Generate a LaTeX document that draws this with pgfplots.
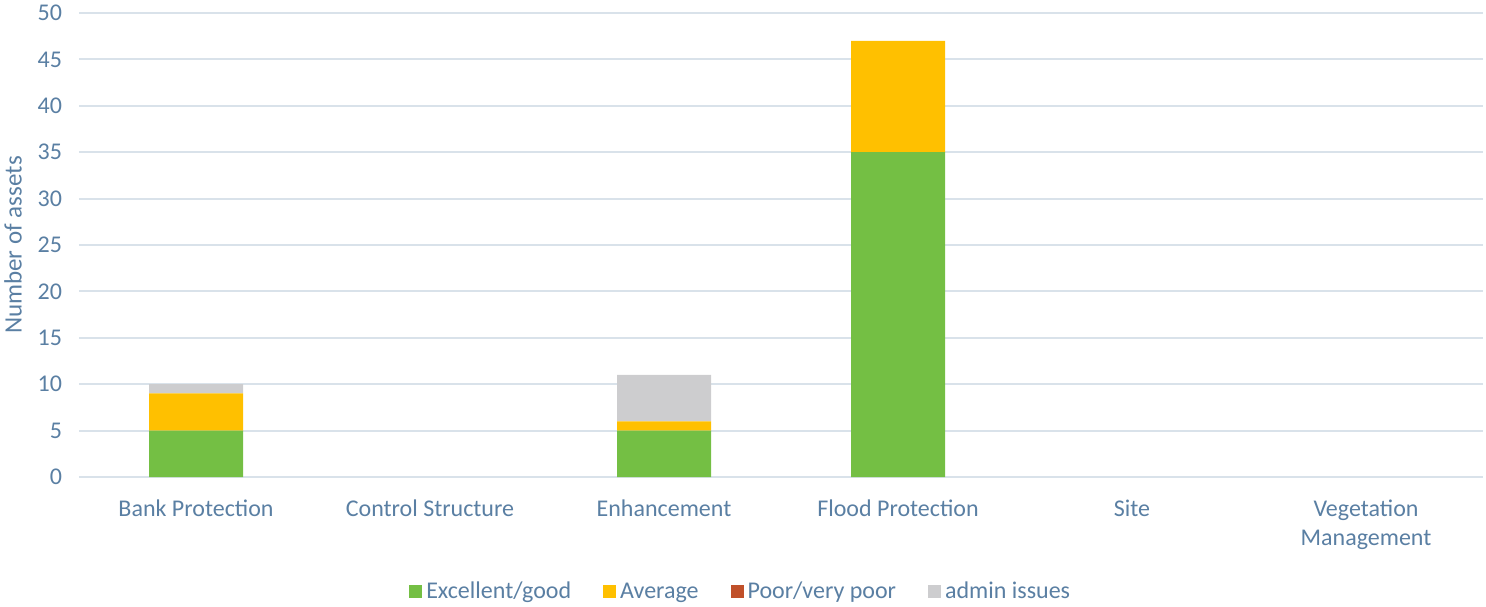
\documentclass[border=0pt]{standalone}
\usepackage{fontspec}
\setmainfont{Carlito}
\usepackage{pgfplots}
\pgfplotsset{compat=1.18}
\definecolor{txt}{HTML}{5A7FA3}
\definecolor{gridc}{HTML}{D9E2EA}
\definecolor{cgood}{HTML}{74BF44}
\definecolor{cavg}{HTML}{FFC000}
\definecolor{cpoor}{HTML}{C0502A}
\definecolor{cadmin}{HTML}{CDCDCF}
\begin{document}
\begin{tikzpicture}
\begin{axis}[
    scale only axis,
    width=702pt, height=232pt,
    ybar stacked,
    bar width=47pt,
    xmin=-0.5, xmax=5.5,
    ymin=0, ymax=50,
    ytick={0,5,...,50},
    xtick=data,
    xticklabels={Bank Protection,Control Structure,Enhancement,Flood Protection,Site,{Vegetation\\Management}},
    xticklabel style={align=center, yshift=-8pt, font=\fontsize{12}{14.5}\selectfont, text=txt},
    yticklabel style={xshift=-5pt, font=\fontsize{12}{14}\selectfont, text=txt},
    /pgf/number format/assume math mode=true,
    major tick length=0pt,
    axis line style={draw=none},
    ymajorgrids,
    grid style={gridc, line width=1pt},
    ylabel={Number of assets},
    every axis y label/.style={at={([xshift=-33pt]axis description cs:0,0.5)}, rotate=90, anchor=center,
        font=\fontsize{12.5}{14}\selectfont, text=txt},
    legend columns=4,
    legend style={at={(axis description cs:0.4720,-0.2475)}, anchor=center, draw=none,
        font=\fontsize{12}{14}\selectfont, text=txt,
        /tikz/every even column/.append style={column sep=14pt}},
    legend image code/.code={\fill[#1] (0pt,-3.2pt) rectangle (6.5pt,3.3pt);},
]
\addplot[fill=cgood, draw=none] coordinates {(0,5) (1,0) (2,5) (3,35) (4,0) (5,0)};
\addplot[fill=cavg, draw=none] coordinates {(0,4) (1,0) (2,1) (3,12) (4,0) (5,0)};
\addplot[fill=cpoor, draw=none] coordinates {(0,0) (1,0) (2,0) (3,0) (4,0) (5,0)};
\addplot[fill=cadmin, draw=none] coordinates {(0,1) (1,0) (2,5) (3,0) (4,0) (5,0)};
\legend{Excellent/good, Average, Poor/very poor, admin issues}
\end{axis}
\pgfresetboundingbox
\useasboundingbox (-39.5pt,-64.5pt) rectangle (703.5pt,238.5pt);
\end{tikzpicture}
\end{document}
